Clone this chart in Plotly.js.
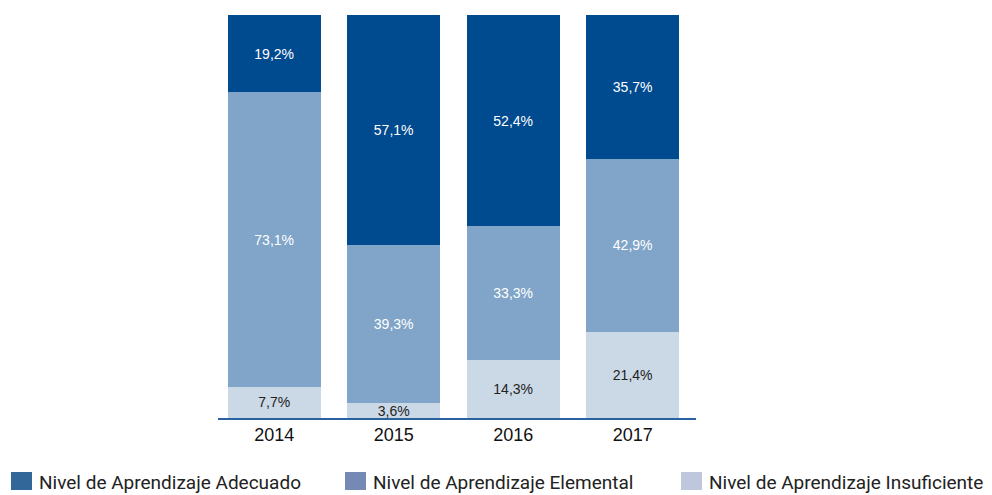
<!DOCTYPE html>
<html>
<head>
<meta charset="utf-8">
<script src="https://cdn.plot.ly/plotly-3.0.1.min.js"></script>
<style>
  html, body { margin: 0; padding: 0; background: #fff; }
  #chart { width: 992px; height: 495px; }
</style>
</head>
<body>
<div id="chart"></div>
<script>
// categories and values (percent)
var years = ['2014', '2015', '2016', '2017'];
var insuficiente = [7.7, 3.6, 14.3, 21.4];
var elemental = [73.1, 39.3, 33.3, 42.9];
var adecuado = [19.2, 57.1, 52.4, 35.7];

var seriesNames = [
    'Nivel de Aprendizaje Adecuado',
    'Nivel de Aprendizaje Elemental',
    'Nivel de Aprendizaje Insuficiente'
];

var barColors = ['#004a8f', '#80a5c8', '#cbd9e7'];
var legendColors = ['#32679a', '#7589b5', '#bfc7dd'];

var bodyFont = 'Liberation Sans';

function fmt(v) {
    return v.toFixed(1).replace('.', ',') + '%';
}

function makeTrace(vals, name, color, textColor) {
    return {
        type: 'bar',
        x: years,
        y: vals,
        name: name,
        marker: { color: color, line: { width: 0 } },
        text: vals.map(fmt),
        textposition: 'inside',
        insidetextanchor: 'middle',
        constraintext: 'none',
        textfont: { family: bodyFont, size: 14, color: textColor },
        hoverinfo: 'x+y+name'
    };
}

var data = [
    makeTrace(insuficiente, seriesNames[2], barColors[2], '#222222'),
    makeTrace(elemental, seriesNames[1], barColors[1], '#ffffff'),
    makeTrace(adecuado, seriesNames[0], barColors[0], '#ffffff')
];

// plot area in pixels
var L = 218, R = 696, T = 15, B = 418;
function px(x) { return (x - L) / (R - L); }
function py(y) { return (B - y) / (B - T); }

// custom legend (squares + labels) under the chart
var legendX = [11, 345, 681];
var shapes = [];
var annotations = [];
for (var i = 0; i < seriesNames.length; i++) {
    shapes.push({
        type: 'rect', xref: 'paper', yref: 'paper',
        x0: px(legendX[i]), x1: px(legendX[i] + 21),
        y0: py(490), y1: py(472),
        fillcolor: legendColors[i], line: { width: 0 }
    });
    annotations.push({
        xref: 'paper', yref: 'paper',
        x: px(legendX[i] + 26), y: py(482),
        xanchor: 'left', yanchor: 'middle',
        text: seriesNames[i], showarrow: false,
        font: { family: 'Roboto', size: 19, color: '#222222' }
    });
}

var layout = {
    width: 992,
    height: 495,
    margin: { l: L, r: 992 - R, t: T, b: 495 - B },
    paper_bgcolor: '#ffffff',
    plot_bgcolor: '#ffffff',
    font: { family: bodyFont },
    barmode: 'stack',
    bargap: 0.22,
    showlegend: false,
    xaxis: {
        type: 'category',
        range: [-0.47, 3.53],
        showline: true,
        linecolor: '#2a62a0',
        linewidth: 1.5,
        ticks: '',
        showgrid: false,
        tickfont: { family: bodyFont, size: 18, color: '#111111' }
    },
    yaxis: {
        range: [0, 100],
        visible: false,
        showgrid: false,
        zeroline: false
    },
    shapes: shapes,
    annotations: annotations
};

Plotly.newPlot('chart', data, layout, { displayModeBar: false, staticPlot: true });
</script>
</body>
</html>
